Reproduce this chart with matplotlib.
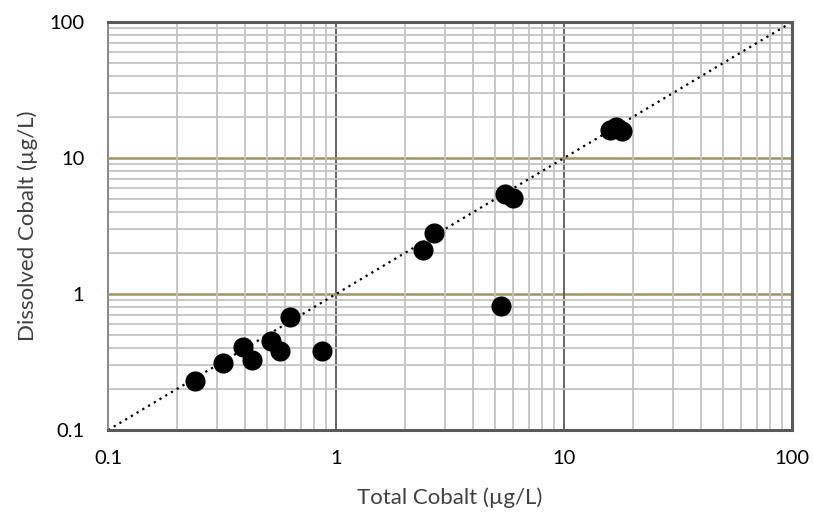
import numpy as np
import matplotlib.pyplot as plt
from matplotlib.ticker import LogLocator, NullFormatter

plt.rcParams['font.family'] = ['Lato', 'DejaVu Sans']

# Total vs dissolved cobalt (ug/L)
total_co = [0.24, 0.32, 0.39, 0.43, 0.52, 0.57, 0.63, 0.87,
            2.4, 2.7, 5.5, 5.95, 5.3, 15.9, 16.9, 17.9]
dissolved_co = [0.23, 0.31, 0.41, 0.33, 0.45, 0.38, 0.68, 0.38,
                2.1, 2.8, 5.4, 5.1, 0.82, 16.1, 16.9, 15.9]
tick_vals = [0.1, 1, 10, 100]
tick_labels = ['0.1', '1', '10', '100']

fig = plt.figure(figsize=(8.14, 5.12), dpi=100)
ax = fig.add_axes([0.1327, 0.160, 0.8403, 0.797])
ax.set_xscale('log')
ax.set_yscale('log')
ax.set_xlim(0.1, 100)
ax.set_ylim(0.1, 100)

# minor grid, every 2..9 in each decade
ax.xaxis.set_minor_locator(LogLocator(base=10, subs=np.arange(2, 10)))
ax.yaxis.set_minor_locator(LogLocator(base=10, subs=np.arange(2, 10)))
ax.xaxis.set_minor_formatter(NullFormatter())
ax.yaxis.set_minor_formatter(NullFormatter())
ax.grid(True, which='minor', color='#c4c4c4', linewidth=1.3, zorder=0)

# major grid lines
for v in [1, 10]:
    ax.axvline(v, color='#595959', linewidth=1.3, zorder=1)
    ax.axhline(v, color='#a09460', linewidth=1.8, zorder=1)

ax.set_xticks(tick_vals)
ax.set_xticklabels(tick_labels)
ax.set_yticks(tick_vals)
ax.set_yticklabels(tick_labels)
ax.tick_params(which='both', length=0, labelsize=14.5, colors='#000000')
ax.tick_params(axis='x', pad=14)
ax.tick_params(axis='y', pad=17)

# 1:1 line
ax.plot([0.1, 100], [0.1, 100], color='black', linestyle=(0, (1, 2)),
        linewidth=1.6, zorder=2)

ax.plot(total_co, dissolved_co, 'o', color='black', markersize=14.5,
        markeredgewidth=0, zorder=3)

for s in ax.spines.values():
    s.set_color('#595959')
    s.set_linewidth(2.2)
ax.spines['left'].set_color('#8c8c8c')
ax.spines['left'].set_linewidth(1.5)

ax.set_xlabel('Total Cobalt (µg/L)', fontsize=16, color='#404040', labelpad=15)
ax.set_ylabel('Dissolved Cobalt (µg/L)', fontsize=16, color='#404040', labelpad=8)

fig.savefig('out.png', dpi=100)
